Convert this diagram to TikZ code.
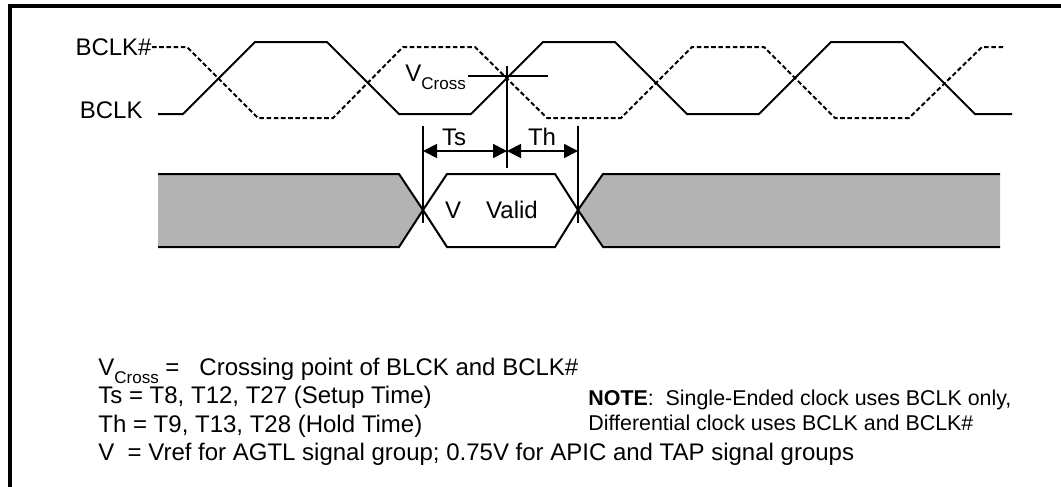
\documentclass[tikz,border=0pt]{standalone}
\usepackage{fontspec}
\setmainfont{Liberation Sans}
\usetikzlibrary{arrows.meta,positioning}
\definecolor{busgray}{RGB}{179,179,179}
\newcommand{\vcross}{V\raisebox{-4pt}{\fontsize{8.5}{9}\selectfont Cross}}
\begin{document}
\begin{tikzpicture}[x=0.5pt,y=-0.5pt]

    \tikzset{
      wave/.style={
        line width=1pt,
        line join=miter,
      },
      wavebar/.style={
        wave,
        dash pattern=on 2.3pt off 1.3pt,
      },
      marker/.style={line width=0.9pt},
      span/.style={
        line width=0.9pt,
        {Triangle[length=7pt,width=7pt]}-{Triangle[length=7pt,width=7pt]},
      },
      lbl/.style={inner sep=0pt, font=\fontsize{12}{14}\selectfont},
      note/.style={inner sep=0pt, font=\fontsize{10.7}{12.5}\selectfont},
    }
    \useasboundingbox (0,0) rectangle (1061,487);
    \draw[color={black},line width=1.6pt] (10,487)--(10,6)--(1061,6);

	\draw[wave] (158,114)--(183,114)--(255,42)--(327,42)--(399,114)--(471,114)--(543,42)--(615,42)--(687,114)--(759,114)--(831,42)--(903,42)--(975,114)--(1012,114);
	\draw[wavebar] (152,47)--(187,47)--(258,118)--(333,118)--(403,47)--(475,47)--(547,118)--(621,118)--(692,47)--(764,47)--(835,118)--(909,118)--(982,47)--(1005,47);
	\node[lbl,anchor=base east] (bclkb) at (152,55) {BCLK\#};
	\node[lbl,anchor=base east] (bclk) at (143,118) {BCLK};

	\draw[marker] (468,76)--(548,76);
	\draw[marker] (507,66)--(507,168);
	\draw[marker] (423,126)--(423,223);
	\draw[marker] (578,126)--(578,223);
	\node[lbl,anchor=base west] (vx) at (405,81) {\vcross};

	\coordinate (ts) at (423,151);
	\coordinate (tc) at (507,151);
	\coordinate (th) at (578,151);
	\draw[span] (ts)--(tc);
	\draw[span] (tc)--(th);
	\node[lbl,anchor=base] (tslbl) at (454,145) {Ts};
	\node[lbl,anchor=base] (thlbl) at (542,145) {Th};

	\fill[busgray] (158,174)--(399,174)--(423,210)--(399,247)--(158,247)--cycle;
	\draw[wave] (158,174)--(399,174)--(423,210)--(399,247)--(158,247);
	\fill[busgray] (1000,174)--(603,174)--(578,210)--(603,247)--(1000,247)--cycle;
	\draw[wave] (1000,174)--(603,174)--(578,210)--(603,247)--(1000,247);
	\draw[wave,fill=white] (423,210)--(447,174)--(555,174)--(578,210)--(555,247)--(447,247)--cycle;
	\node[lbl,anchor=base] (vlev) at (453,218) {V};
	\node[lbl,anchor=base] (valid) at (512,218) {Valid};

	\node[lbl,anchor=base west] (defx) at (98,375) {\vcross\ =\ \ \ Crossing point of BLCK and BCLK\#};
	\node[lbl,anchor=base west] (defs) at (98,403) {Ts = T8, T12, T27 (Setup Time)};
	\node[lbl,anchor=base west] (defh) at (98,432) {Th = T9, T13, T28 (Hold Time)};
	\node[lbl,anchor=base west] (defv) at (98,460) {V\ \ = Vref for AGTL signal group; 0.75V for APIC and TAP signal groups};
	\node[note,anchor=base west] (notea) at (588,405) {\textbf{NOTE}:\ \ Single-Ended clock uses BCLK only,};
	\node[note,anchor=base west] (noteb) at (588,430) {Differential clock uses BCLK and BCLK\#};

\end{tikzpicture}
\end{document}
